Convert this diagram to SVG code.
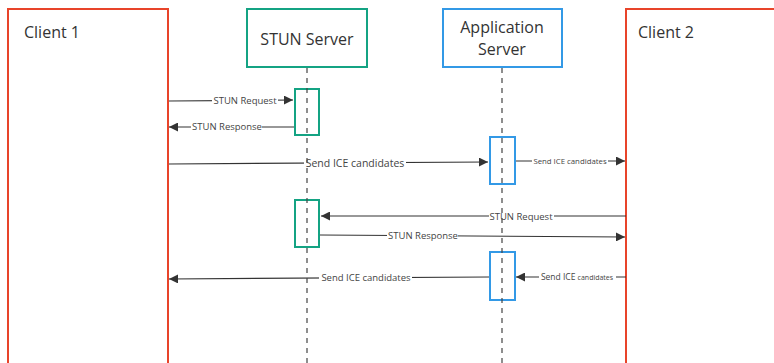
<svg xmlns="http://www.w3.org/2000/svg" width="774" height="363" viewBox="0 0 774 363">
  <defs>
    <marker id="arrow" viewBox="0 0 10 10" refX="10" refY="5" markerWidth="9" markerHeight="9" markerUnits="userSpaceOnUse" orient="auto">
      <path d="M0,0 L10,5 L0,10 z" fill="#333"/>
    </marker>
    <style>
      .client { fill: #fff; stroke: #e8442a; stroke-width: 2; }
      .stun { fill: #fff; stroke: #14a383; stroke-width: 2; }
      .app { fill: #fff; stroke: #3399e6; stroke-width: 2; }
      .title { font-family: "Open Sans", "Noto Sans", sans-serif; font-size: 16px; fill: #333; }
      .msg { fill: none; stroke: #333; stroke-width: 1.2; marker-end: url(#arrow); }
      .bg { fill: #fff; }
      .lbl { font-family: "Open Sans", "Noto Sans", sans-serif; font-size: 9.5px; fill: #444; text-anchor: middle; }
      .life { stroke: #444; stroke-width: 1.2; stroke-dasharray: 5 5; fill: none; }
    </style>
  </defs>

  <rect width="774" height="363" fill="#fff"/>

  <!-- participants -->
  <g id="client1">
    <rect class="client" x="8" y="9" width="160" height="380"/>
    <text class="title" x="24" y="38">Client 1</text>
  </g>
  <g id="stun-server">
    <rect class="stun" x="247" y="9" width="120" height="58"/>
    <text class="title" x="307" y="45" text-anchor="middle">STUN Server</text>
  </g>
  <g id="app-server">
    <rect class="app" x="443" y="9" width="119" height="58"/>
    <text class="title" x="502" y="33" text-anchor="middle">Application</text>
    <text class="title" x="502" y="55" text-anchor="middle">Server</text>
  </g>
  <g id="client2">
    <rect class="client" x="626" y="9" width="170" height="380"/>
    <text class="title" x="638" y="38">Client 2</text>
  </g>

  <!-- activations -->
  <g id="stun-act-1"><rect class="stun" x="295" y="89" width="24" height="46"/></g>
  <g id="app-act-1"><rect class="app" x="490" y="137" width="25" height="47"/></g>
  <g id="stun-act-2"><rect class="stun" x="295" y="200" width="24" height="47"/></g>
  <g id="app-act-2"><rect class="app" x="490" y="252" width="25" height="48"/></g>

  <!-- messages -->
  <g id="connectors">
    <line class="msg" x1="169" y1="101" x2="293" y2="100"/>
    <rect class="bg" x="212" y="95" width="66" height="10"/>
    <text class="lbl" x="245" y="104">STUN Request</text>

    <line class="msg" x1="294" y1="127" x2="169" y2="127"/>
    <rect class="bg" x="191" y="122" width="71" height="10"/>
    <text class="lbl" x="227" y="130">STUN Response</text>

    <line class="msg" x1="169" y1="164" x2="488" y2="162"/>
    <rect class="bg" x="304" y="157" width="102" height="11"/>
    <text class="lbl" x="355" y="166.5" style="font-size:10.5px">Send ICE candidates</text>

    <line class="msg" x1="516" y1="161" x2="625" y2="161"/>
    <rect class="bg" x="532" y="156" width="76" height="9"/>
    <text class="lbl" x="570" y="163.5" style="font-size:7.8px">Send ICE candidates</text>

    <line class="msg" x1="626" y1="216" x2="321" y2="216"/>
    <rect class="bg" x="489" y="211" width="65" height="10"/>
    <text class="lbl" x="521" y="219.5">STUN Request</text>

    <line class="msg" x1="320" y1="235" x2="625" y2="237"/>
    <rect class="bg" x="387" y="231" width="71" height="10"/>
    <text class="lbl" x="423" y="239">STUN Response</text>

    <line class="msg" x1="489" y1="277" x2="169" y2="279"/>
    <rect class="bg" x="319" y="273" width="93" height="10"/>
    <text class="lbl" x="366" y="281">Send ICE candidates</text>

    <line class="msg" x1="626" y1="277" x2="516" y2="277"/>
    <rect class="bg" x="539" y="272" width="77" height="10"/>
    <text class="lbl" x="577" y="279.5" style="font-size:8.5px">Send ICE <tspan style="font-size:7px">candidates</tspan></text>
  </g>

  <!-- lifelines -->
  <g id="lifelines">
    <line class="life" x1="307" y1="68" x2="307" y2="363"/>
    <line class="life" x1="502" y1="68" x2="502" y2="363"/>
  </g>
</svg>
